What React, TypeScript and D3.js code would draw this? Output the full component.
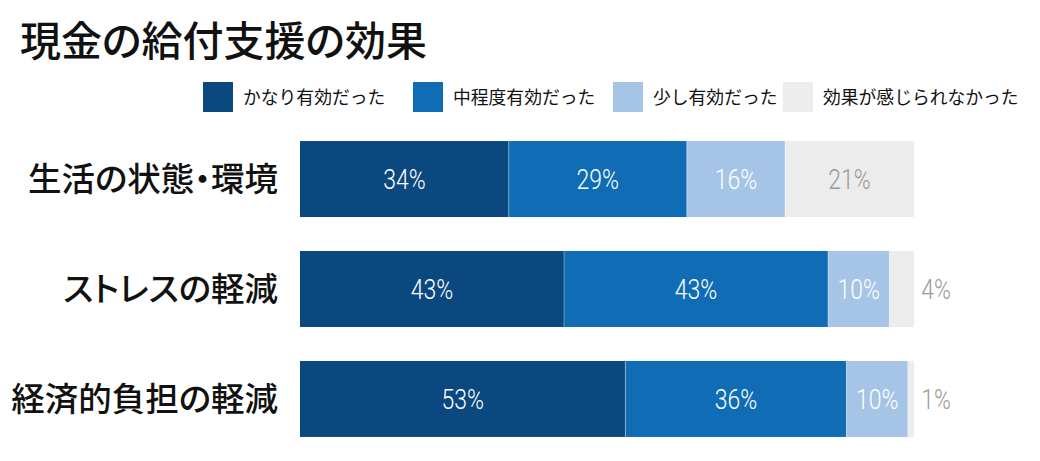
import React, { useEffect, useRef } from "react";
import * as d3 from "d3";

const categories = ["生活の状態・環境", "ストレスの軽減", "経済的負担の軽減"];
const seriesNames = ["かなり有効だった", "中程度有効だった", "少し有効だった", "効果が感じられなかった"];
const verySeries = [34, 43, 53];
const midSeries = [29, 43, 36];
const littleSeries = [16, 10, 10];
const noneSeries = [21, 4, 1];
const colors = ["#0b4880", "#106db5", "#a6c4e6", "#ececec"];
const labelColors = ["#ffffff", "#ffffff", "#ffffff", "#9a9a9a"];

const W = 1040;
const H = 461;

export default function App() {
  const ref = useRef<SVGSVGElement | null>(null);

  useEffect(() => {
    const svg = d3.select(ref.current);
    svg.selectAll("*").remove();

    const jp = "'Noto Sans CJK JP', 'Noto Sans', sans-serif";
    const num = "Roboto, Lato, sans-serif";

    // title
    svg.append("text")
      .attr("x", 20)
      .attr("y", 56)
      .attr("font-family", jp)
      .attr("font-size", 41)
      .attr("font-weight", 500)
      .attr("fill", "#111")
      .style("font-feature-settings", "'palt'")
      .text("現金の給付支援の効果");

    // legend
    const legendX = [203, 413, 613, 783];
    seriesNames.forEach((name, i) => {
      const g = svg.append("g").attr("transform", `translate(${legendX[i]},82)`);
      g.append("rect").attr("width", 30).attr("height", 30).attr("fill", colors[i]);
      g.append("text")
        .attr("x", 40)
        .attr("y", 22)
        .attr("font-family", jp)
        .attr("font-size", 17.8)
        .attr("fill", "#111")
        .text(name);
    });

    const rows = categories.map((c, i) => ({
      cat: c,
      vals: [verySeries[i], midSeries[i], littleSeries[i], noneSeries[i]],
    }));

    const x = d3.scaleLinear().domain([0, 100]).range([300, 914]);
    const y = d3.scaleBand().domain(categories).range([124, 454]).paddingInner(0.309).paddingOuter(0.155);

    rows.forEach((r) => {
      const y0 = y(r.cat)!;
      const bh = y.bandwidth();
      svg.append("text")
        .attr("x", 278)
        .attr("y", y0 + bh / 2)
        .attr("dy", "0.36em")
        .attr("text-anchor", "end")
        .attr("font-family", jp)
        .attr("font-size", 33.5)
        .attr("font-weight", 500)
        .attr("fill", "#111")
        .style("font-feature-settings", "'palt'")
        .text(r.cat);

      let acc = 0;
      r.vals.forEach((v, j) => {
        const x0 = x(acc);
        const x1 = x(acc + v);
        acc += v;
        svg.append("rect")
          .attr("x", x0)
          .attr("y", y0)
          .attr("width", x1 - x0)
          .attr("height", bh)
          .attr("fill", colors[j]);
        const inside = x1 - x0 > 40;
        const cx = inside ? (x0 + x1) / 2 : x(100) + 22;
        svg.append("text")
          .attr("transform", `translate(${cx},${y0 + bh / 2}) scale(0.82,1)`)
          .attr("dy", "0.36em")
          .attr("text-anchor", "middle")
          .attr("font-family", num)
          .attr("font-size", 28)
          .attr("font-weight", 300)
          .attr("fill", inside ? labelColors[j] : "#9a9a9a")
          .text(`${v}%`);
      });
      // thin dividers between segments
      acc = 0;
      r.vals.slice(0, -1).forEach((v) => {
        acc += v;
        svg.append("line")
          .attr("x1", x(acc))
          .attr("x2", x(acc))
          .attr("y1", y0)
          .attr("y2", y0 + bh)
          .attr("stroke", "#ffffff")
          .attr("stroke-opacity", 0.35)
          .attr("stroke-width", 1);
      });
    });
  }, []);

  return (
    <svg
      ref={ref}
      width={W}
      height={H}
      style={{ position: "absolute", left: 0, top: 0, background: "#fff" }}
    />
  );
}
